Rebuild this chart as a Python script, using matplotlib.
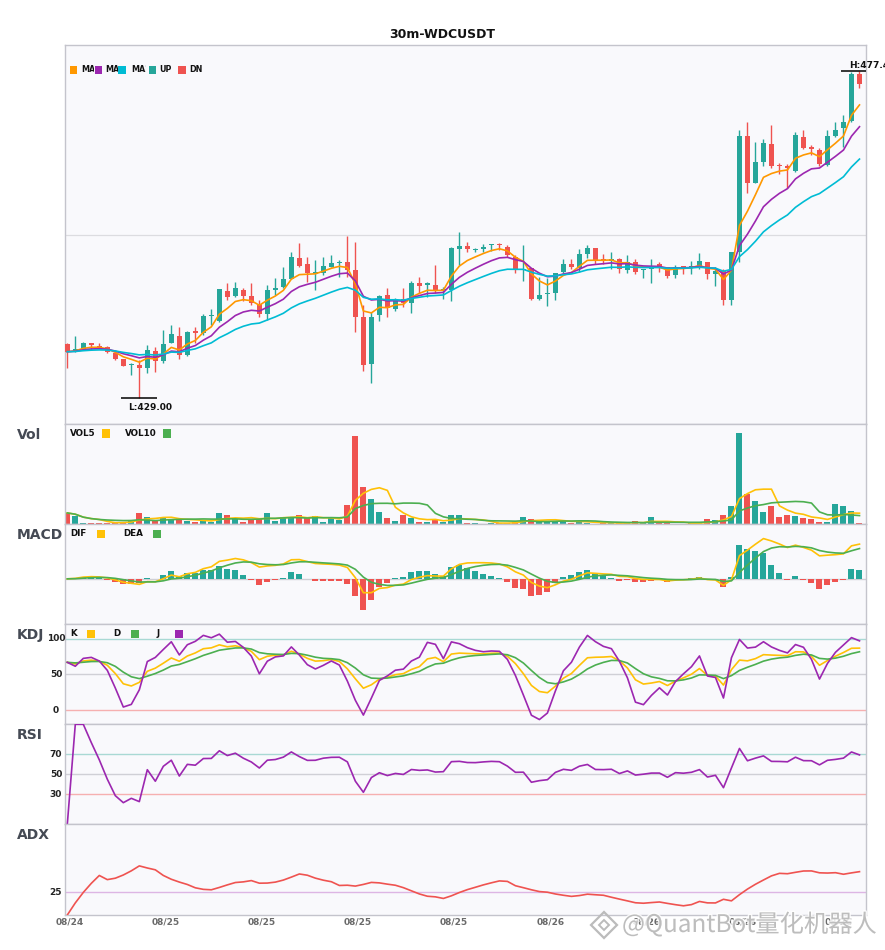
import numpy as np
import pandas as pd
import matplotlib
matplotlib.use("Agg")
import matplotlib.pyplot as plt
from matplotlib.patches import Rectangle
from matplotlib.lines import Line2D
import matplotlib.patheffects as pe

# ---------------- data (30m candles) ----------------
dates = ["08/24", "08/25", "08/25", "08/25", "08/25", "08/26", "08/26", "08/26", "08/26"]
date_idx = [0, 12, 24, 36, 48, 60, 72, 84, 96]

opens = [437.00, 435.96, 436.26, 437.10, 436.75, 436.51, 435.62, 434.73, 433.92, 433.89,
         433.49, 435.96, 434.53, 437.20, 438.19, 435.37, 438.93, 438.58, 441.10, 440.46,
         444.85, 444.11, 445.00, 444.11, 442.93, 441.40, 445.00, 445.40, 446.63, 449.79,
         448.85, 447.42, 447.47, 448.46, 449.00, 449.10, 447.96, 441.05, 434.04, 441.30,
         444.26, 442.14, 443.62, 443.02, 446.09, 445.79, 445.74, 444.95, 445.00, 451.12,
         451.52, 450.88, 451.02, 451.62, 451.72, 451.42, 449.84, 447.91, 448.21, 443.67,
         444.41, 444.60, 447.72, 448.85, 448.20, 450.34, 451.17, 449.50, 449.35, 449.60,
         447.96, 449.20, 447.92, 448.06, 448.80, 448.36, 447.22, 448.41, 448.21, 448.46,
         449.10, 447.42, 447.87, 443.52, 450.60, 467.81, 460.90, 464.01, 466.63, 463.42,
         463.22, 462.67, 467.71, 466.03, 465.74, 463.51, 467.81, 468.95, 470.08, 477.00]
highs = [437.10, 438.19, 437.35, 437.20, 437.10, 436.70, 435.72, 434.83, 434.14, 434.63,
         436.85, 436.61, 439.08, 439.82, 439.47, 438.90, 439.57, 441.45, 442.19, 445.20,
         445.99, 446.19, 445.25, 445.99, 443.52, 445.74, 446.73, 448.46, 450.68, 452.01,
         449.94, 449.45, 449.94, 450.19, 449.45, 453.00, 452.16, 442.78, 441.79, 444.26,
         445.25, 443.77, 445.25, 446.38, 446.98, 446.24, 448.70, 445.49, 451.30, 453.64,
         452.16, 451.17, 451.81, 451.77, 451.91, 451.67, 450.19, 451.67, 448.30, 446.98,
         446.73, 447.50, 449.54, 449.54, 451.02, 451.67, 451.25, 450.30, 450.58, 449.79,
         450.19, 449.54, 448.05, 449.59, 449.10, 448.46, 448.70, 448.46, 449.30, 450.43,
         449.20, 448.46, 448.06, 450.70, 468.70, 469.93, 466.97, 467.32, 469.44, 463.76,
         463.66, 468.45, 468.70, 466.48, 465.98, 468.70, 469.93, 470.92, 477.30, 477.40]
lows = [433.40, 435.87, 436.11, 436.11, 436.36, 435.62, 434.63, 433.69, 432.41, 429.00,
        432.75, 432.90, 434.24, 437.10, 434.73, 435.30, 437.10, 438.38, 439.82, 440.31,
        443.52, 444.01, 443.42, 442.78, 441.05, 440.56, 444.26, 445.25, 446.58, 448.46,
        446.24, 445.00, 447.22, 448.46, 446.98, 446.98, 438.83, 433.05, 431.27, 440.46,
        441.05, 441.94, 442.43, 441.64, 444.51, 443.91, 444.60, 443.67, 443.42, 448.70,
        450.68, 450.58, 450.58, 450.83, 450.93, 449.94, 447.57, 446.38, 443.52, 443.52,
        442.68, 443.52, 447.57, 448.06, 447.72, 449.70, 448.80, 448.80, 448.06, 447.47,
        447.47, 447.32, 446.83, 446.09, 447.72, 446.73, 446.83, 447.32, 447.32, 448.06,
        446.58, 445.64, 442.78, 442.78, 449.19, 459.32, 460.80, 463.37, 463.02, 462.18,
        460.06, 462.53, 465.84, 465.00, 463.37, 463.37, 467.71, 466.23, 469.90, 474.87]
closes = [435.87, 436.26, 437.10, 436.85, 436.51, 435.87, 434.73, 433.79, 434.00, 433.49,
          436.11, 434.53, 437.00, 438.48, 435.37, 438.78, 438.58, 441.15, 441.20, 445.15,
          444.01, 445.35, 444.11, 443.12, 441.40, 445.00, 445.35, 446.63, 449.94, 448.61,
          447.47, 447.52, 448.61, 449.05, 449.10, 447.96, 441.05, 433.89, 441.05, 444.11,
          442.28, 443.62, 443.02, 446.09, 445.64, 445.89, 444.85, 445.05, 451.27, 451.52,
          451.02, 450.98, 451.42, 451.72, 451.62, 450.19, 447.96, 448.01, 443.67, 444.26,
          444.60, 447.47, 448.85, 448.46, 450.34, 451.17, 449.45, 449.40, 449.55, 448.16,
          449.10, 447.72, 448.01, 448.36, 448.36, 447.13, 448.46, 448.31, 448.56, 449.30,
          447.37, 447.82, 443.52, 450.68, 467.81, 460.90, 464.01, 466.82, 463.37, 463.32,
          463.12, 467.96, 465.98, 465.93, 463.61, 467.81, 468.70, 469.93, 477.00, 475.47]
volumes = [113, 87, 13, 13, 13, 17, 20, 20, 43, 113,
           73, 43, 67, 53, 43, 37, 23, 37, 27, 113,
           93, 50, 23, 50, 60, 113, 33, 73, 67, 93,
           60, 83, 23, 60, 43, 193, 873, 373, 253, 123,
           63, 33, 93, 60, 23, 23, 43, 27, 93, 93,
           13, 13, 7, 13, 13, 13, 27, 73, 53, 33,
           33, 33, 33, 13, 33, 13, 7, 13, 13, 13,
           13, 33, 13, 73, 13, 13, 7, 7, 13, 13,
           53, 43, 93, 183, 903, 303, 233, 123, 183, 73,
           93, 83, 63, 53, 23, 20, 203, 183, 133, 13]

# ---------------- indicators ----------------
o = pd.Series(opens); h = pd.Series(highs); l = pd.Series(lows); c = pd.Series(closes)
v = pd.Series(volumes, dtype=float)
n = len(c)
x = np.arange(n)

ma5 = c.ewm(span=5, adjust=False).mean()
ma10 = c.ewm(span=10, adjust=False).mean()
ma20 = c.ewm(span=20, adjust=False).mean()
vol5 = v.rolling(5, min_periods=1).mean()
vol10 = v.rolling(10, min_periods=1).mean()

# fast MACD (6, 13, 5)
dif = c.ewm(span=6, adjust=False).mean() - c.ewm(span=13, adjust=False).mean()
dea = dif.ewm(span=5, adjust=False).mean()
hist = 2 * (dif - dea)

llv = l.rolling(9, min_periods=1).min()
hhv = h.rolling(9, min_periods=1).max()
rsv = (c - llv) / (hhv - llv) * 100
K = rsv.ewm(com=2, adjust=False).mean()
D = K.ewm(com=2, adjust=False).mean()
J = 3 * K - 2 * D

delta = c.diff().fillna(0)
gain = delta.clip(lower=0).ewm(alpha=1 / 14, adjust=False).mean()
loss = (-delta.clip(upper=0)).ewm(alpha=1 / 14, adjust=False).mean()
rsi = (100 * gain / (gain + loss)).fillna(0)

pc = c.shift(1)
tr = pd.concat([h - l, (h - pc).abs(), (l - pc).abs()], axis=1).max(axis=1)
up = h.diff()
dn = -l.diff()
pdm = pd.Series(np.where((up > dn) & (up > 0), up, 0.0))
mdm = pd.Series(np.where((dn > up) & (dn > 0), dn, 0.0))
atr = tr.ewm(span=14, adjust=False).mean()
pdi = 100 * pdm.ewm(span=14, adjust=False).mean() / atr
mdi = 100 * mdm.ewm(span=14, adjust=False).mean() / atr
dx = (100 * (pdi - mdi).abs() / (pdi + mdi)).fillna(0)
adx = dx.ewm(span=14, adjust=False).mean()

# ---------------- style ----------------
UP = "#26a69a"; DN = "#ef5350"
C_MA5 = "#ff9800"; C_MA10 = "#9c27b0"; C_MA20 = "#00bcd4"
C_Y = "#ffc107"; C_G = "#4caf50"; C_P = "#9c27b0"
BG = "#f9f9fc"; SPINE = "#c4c4cc"
colors = [UP if cc >= oo else DN for oo, cc in zip(opens, closes)]

W, H = 885, 950
fig = plt.figure(figsize=(W / 100, H / 100), dpi=100)
fig.patch.set_facecolor("white")
LP, RP = 65.3, 865.5


def rect(t, b):
    return [LP / W, 1 - b / H, (RP - LP) / W, (b - t) / H]


bounds = [(45, 424.3), (424.3, 524.3), (524.3, 624.3), (624.3, 724.3), (724.3, 824.3), (824.3, 915)]
axes = []
for t, b in bounds:
    ax = fig.add_axes(rect(t, b))
    ax.set_facecolor(BG)
    ax.set_xlim(-0.25, 99.75)
    ax.set_xticks([]); ax.set_yticks([])
    for s in ax.spines.values():
        s.set_color(SPINE); s.set_linewidth(1)
    axes.append(ax)
axm, axv, axmacd, axk, axr, axa = axes

# main candles
lo, hi = min(lows), max(highs)
rng = hi - lo
axm.set_ylim(lo - 0.08 * rng, hi + 0.08 * rng)
axm.axhline((lo + hi) / 2, color="#dcdce0", lw=0.9, zorder=0)
axm.vlines(x, lows, highs, colors=colors, lw=1.0, zorder=2)
bh = np.maximum(np.abs(c - o), rng * 0.004)
axm.bar(x, bh, bottom=np.minimum(o, c), width=0.62, color=colors, zorder=3)
axm.plot(x, ma5, color=C_MA5, lw=1.2, zorder=4)
axm.plot(x, ma10, color=C_MA10, lw=1.2, zorder=4)
axm.plot(x, ma20, color=C_MA20, lw=1.2, zorder=4)

ih = int(np.argmax(highs)); il = int(np.argmin(lows))
axm.hlines(highs[ih], ih - 2.25, ih + 2.25, color="black", lw=1.1, zorder=5)
axm.hlines(lows[il], il - 2.25, il + 2.25, color="black", lw=1.1, zorder=5)
axm.annotate(f"H:{highs[ih]:.2f}", xy=(ih - 1.25, highs[ih]), xytext=(0, 4.3), textcoords="offset points",
             ha="left", va="center", fontsize=6.5, weight="bold", color="#111", annotation_clip=False)
axm.annotate(f"L:{lows[il]:.2f}", xy=(il - 1.4, lows[il]), xytext=(0, -6.6), textcoords="offset points",
             ha="left", va="center", fontsize=6.5, weight="bold", color="#111")

# volume
axv.bar(x, v, width=0.75, color=colors, zorder=2)
axv.plot(x, vol5, color=C_Y, lw=1.2, zorder=3)
axv.plot(x, vol10, color=C_G, lw=1.2, zorder=3)
axv.set_ylim(0, v.max() * 1.1)

# MACD
axmacd.axhline(0, color="#cfcfd4", lw=1.0, zorder=1)
axmacd.bar(x, hist, width=0.75, color=[UP if hv >= 0 else DN for hv in hist], zorder=2)
axmacd.plot(x, dif, color=C_Y, lw=1.2, zorder=3)
axmacd.plot(x, dea, color=C_G, lw=1.2, zorder=3)
mlo = min(hist.min(), dif.min(), dea.min()); mhi = max(hist.max(), dif.max(), dea.max())
axmacd.set_ylim(mlo - 0.2 * (mhi - mlo), mhi + 0.2 * (mhi - mlo))

# KDJ
axk.set_ylim(-20, 120)
axk.axhline(100, color="#a9d9d4", lw=1.0, zorder=1)
axk.axhline(50, color="#d0d0d6", lw=1.0, zorder=1)
axk.axhline(0, color="#f6b0b0", lw=1.0, zorder=1)
axk.plot(x, K, color=C_Y, lw=1.2, zorder=3)
axk.plot(x, D, color=C_G, lw=1.2, zorder=3)
axk.plot(x, J, color=C_P, lw=1.2, zorder=3)

# RSI
axr.set_ylim(0, 100)
axr.axhline(70, color="#a9d9d4", lw=1.0, zorder=1)
axr.axhline(50, color="#d0d0d6", lw=1.0, zorder=1)
axr.axhline(30, color="#f6b0b0", lw=1.0, zorder=1)
axr.plot(x, rsi, color=C_P, lw=1.2, zorder=3)

# ADX
axa.set_ylim(0, 100)
axa.axhline(25, color="#ddb6e4", lw=1.0, zorder=1)
axa.plot(x, adx, color=DN, lw=1.2, zorder=3)

# y labels (centered at x=56px)
for ax, vals in [(axk, [100, 50, 0]), (axr, [70, 50, 30]), (axa, [25])]:
    for val in vals:
        ax.annotate(str(val), xy=(0, val), xycoords=("axes fraction", "data"), xytext=(-(LP - 56) * 0.72, 0),
                    textcoords="offset points", ha="center", va="center", fontsize=6.5, weight="bold",
                    color="#222", annotation_clip=False)

# x labels
for i, d in zip(date_idx, dates):
    axa.annotate(d, xy=(i, 0), xycoords=("data", "axes fraction"), xytext=(2, -6.8 * 0.72),
                 textcoords="offset points", ha="center", va="center", fontsize=6.5, weight="bold",
                 color="#6a6a6a", annotation_clip=False)

# panel titles
for (t, b), name in zip(bounds[1:], ["Vol", "MACD", "KDJ", "RSI", "ADX"]):
    fig.text(17 / W, 1 - (t + 10.5) / H, name, fontsize=10, weight="bold", color="#454a54",
             ha="left", va="center")

fig.text(0.5, 1 - 34 / H, "30m-WDCUSDT", ha="center", va="center", fontsize=9, weight="bold", color="#111")


def square(xp, yc, col, size=8, z=6):
    fig.add_artist(Rectangle((xp / W, 1 - (yc + size / 2) / H), size / W, size / H,
                             transform=fig.transFigure, facecolor=col, edgecolor="none", zorder=z))


def label(xp, yc, s, fs=6.3, z=5):
    fig.text(xp / W, 1 - yc / H, s, fontsize=fs, weight="bold", color="#111", ha="left", va="center", zorder=z)


# main legend: later entries drawn over the overflow of earlier labels
yc = 70
leg_sq = [70, 94.7, 118.3, 149, 178.3]
leg_tx = [81.3, 105.3, 131.7, 159.7, 189]
leg_lb = ["MA5", "MA10", "MA20", "UP", "DN"]
leg_col = [C_MA5, C_MA10, C_MA20, UP, DN]
leg_pad = [0.5, 0.5, 0.5, 2.8, 0.5]
for k in range(5):
    z0 = 5 + 3 * k
    end = leg_sq[k + 1] if k < 4 else leg_sq[k] + 30
    start = leg_sq[k] - leg_pad[k]
    fig.add_artist(Rectangle((start / W, 1 - (yc + 7) / H), (end - start) / W, 14 / H,
                             transform=fig.transFigure, facecolor=BG, edgecolor="none", zorder=z0))
    square(leg_sq[k], yc, leg_col[k], size=7.4, z=z0 + 1)
    label(leg_tx[k], yc, leg_lb[k], 5.8, z=z0 + 2)

# vol legend
yc = 433.5
label(70, yc, "VOL5"); square(101.7, yc, C_Y); label(125, yc, "VOL10"); square(162.7, yc, C_G)
# macd legend
yc = 533.5
label(70, yc, "DIF"); square(97, yc, C_Y); label(123, yc, "DEA"); square(153, yc, C_G)
# kdj legend
yc = 633.5
label(70, yc, "K"); square(87, yc, C_Y); label(113, yc, "D"); square(131, yc, C_G)
label(157, yc, "J"); square(175, yc, C_P)

# watermark
fig.add_artist(Line2D([604 / W], [1 - 925 / H], marker="D", markersize=13, markerfacecolor="none",
                      markeredgecolor="#bbbbbb", markeredgewidth=1.6, transform=fig.transFigure, zorder=30))
fig.add_artist(Line2D([604 / W], [1 - 925 / H], marker="D", markersize=5, markerfacecolor="none",
                      markeredgecolor="#bbbbbb", markeredgewidth=1.4, transform=fig.transFigure, zorder=30))
wm = fig.text(622 / W, 1 - 925 / H, "@QuantBot量化机器人", fontsize=17.5, color="#b4b4b4", alpha=0.85,
              family=["Noto Sans CJK SC", "DejaVu Sans"], ha="left", va="center", zorder=30)
wm.set_path_effects([pe.withStroke(linewidth=2, foreground="white")])

fig.savefig("out.png", dpi=100, facecolor="white")
